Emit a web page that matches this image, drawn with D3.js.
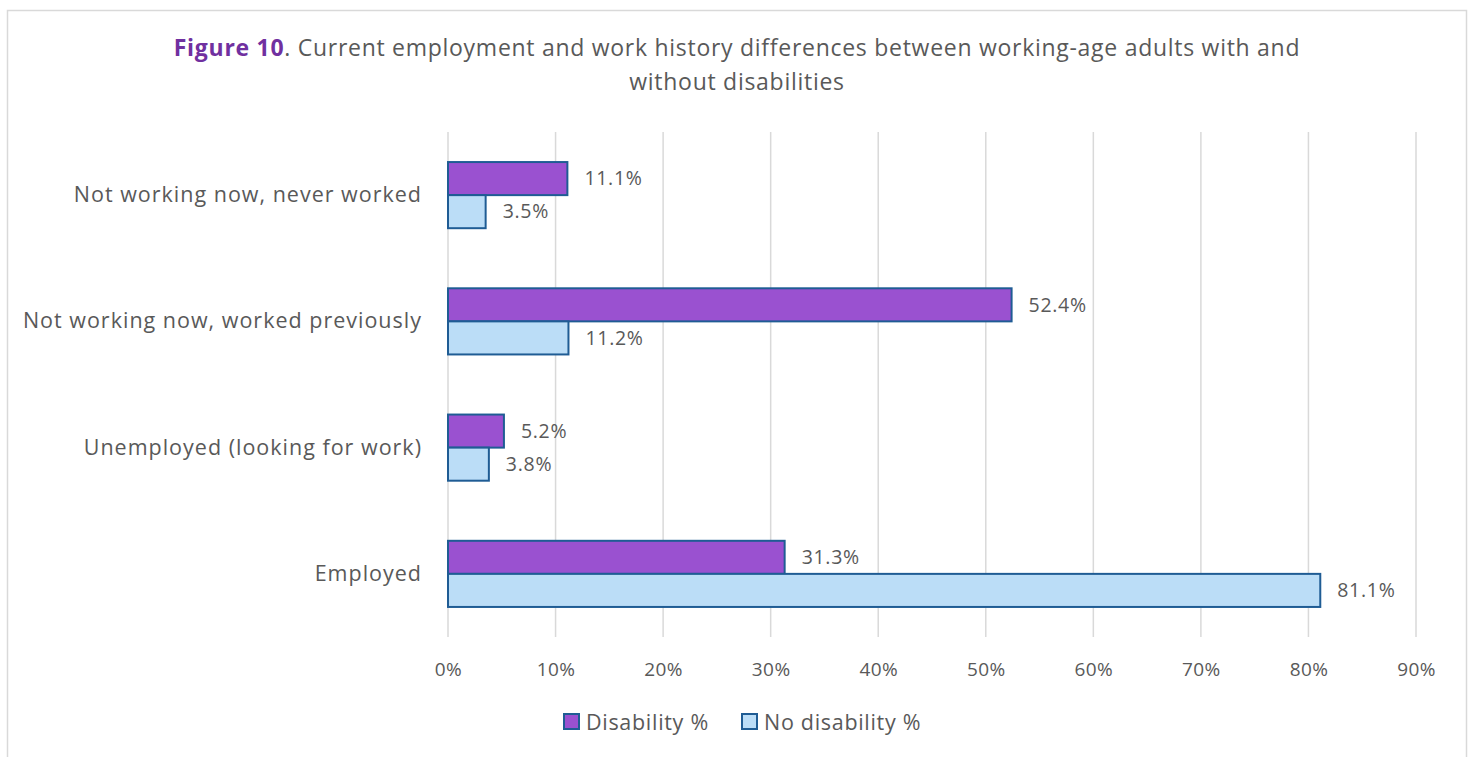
<!DOCTYPE html>
<html>
<head>
<meta charset="utf-8">
<script src="https://cdn.jsdelivr.net/npm/d3@7"></script>
<style>
  html, body { margin: 0; padding: 0; background: #fff; }
  svg { display: block; }
  text { font-family: "Open Sans", "Noto Sans", sans-serif; fill: #595959; }
</style>
</head>
<body>
<svg id="chart" width="1473" height="757"></svg>
<script>
// Categories listed top to bottom as drawn
const categories = [
  "Not working now, never worked",
  "Not working now, worked previously",
  "Unemployed (looking for work)",
  "Employed"
];
const seriesNames = ["Disability %", "No disability %"];
const disability = [11.1, 52.4, 5.2, 31.3];
const noDisability = [3.5, 11.2, 3.8, 81.1];
const xTicks = [0, 10, 20, 30, 40, 50, 60, 70, 80, 90];

const colors = ["#9A51D0", "#BBDDF7"];
const strokeColor = "#1F5C94";
const fontStack = "'Open Sans', 'Noto Sans', sans-serif";

const svg = d3.select("#chart");

// outer frame
svg.append("rect")
  .attr("x", 7.5).attr("y", 10.5)
  .attr("width", 1459).attr("height", 760)
  .attr("fill", "#fff").attr("stroke", "#d9d9d9").attr("stroke-width", 1.5);

// title
const title = svg.append("text")
  .attr("x", 737).attr("y", 56)
  .attr("text-anchor", "middle")
  .style("font-size", "23px")
  .style("letter-spacing", "0.72px");
title.append("tspan").text("Figure 10").style("font-weight", "bold").style("fill", "#7030A0");
title.append("tspan").text(". Current employment and work history differences between working-age adults with and");
svg.append("text")
  .attr("x", 737).attr("y", 90)
  .attr("text-anchor", "middle")
  .style("font-size", "23px")
  .style("letter-spacing", "0.72px")
  .text("without disabilities");

const plot = { left: 448, right: 1416, top: 132, bottom: 637 };

const x = d3.scaleLinear().domain([0, 90]).range([plot.left, plot.right]);
const y = d3.scaleBand().domain(categories).range([plot.top, plot.bottom])
  .paddingInner(0.476).paddingOuter(0.238);
const ySub = d3.scaleBand().domain(seriesNames).range([0, y.bandwidth()]);

// vertical gridlines
svg.append("g")
  .selectAll("line")
  .data(xTicks)
  .join("line")
  .attr("x1", d => x(d)).attr("x2", d => x(d))
  .attr("y1", plot.top).attr("y2", plot.bottom)
  .attr("stroke", "#d9d9d9").attr("stroke-width", 1.5);

// x axis tick labels
const xAxis = d3.axisBottom(x).tickValues(xTicks).tickFormat(d => d + "%").tickSize(0).tickPadding(0);
const gx = svg.append("g").attr("transform", `translate(0, ${plot.bottom + 32})`).call(xAxis);
gx.select(".domain").remove();
gx.selectAll("text")
  .attr("dy", "0.35em")
  .style("font-size", "19px")
  .style("letter-spacing", "0.4px")
  .style("fill", "#595959")
  .style("font-family", fontStack);

// y axis category labels
const yAxis = d3.axisLeft(y).tickSize(0).tickPadding(26);
const gy = svg.append("g").attr("transform", `translate(${plot.left}, 0)`).call(yAxis);
gy.select(".domain").remove();
gy.selectAll("text")
  .style("font-size", "21.5px")
  .style("letter-spacing", "1px")
  .style("fill", "#595959")
  .style("font-family", fontStack);

// bars
const rows = categories.map((c, i) => ({
  cat: c,
  vals: [
    { s: seriesNames[0], v: disability[i], c: colors[0] },
    { s: seriesNames[1], v: noDisability[i], c: colors[1] }
  ]
}));

const groups = svg.append("g").selectAll("g")
  .data(rows).join("g")
  .attr("transform", d => `translate(0, ${y(d.cat)})`);

groups.selectAll("rect")
  .data(d => d.vals).join("rect")
  .attr("x", x(0))
  .attr("y", d => ySub(d.s))
  .attr("width", d => x(d.v) - x(0))
  .attr("height", ySub.bandwidth())
  .attr("fill", d => d.c)
  .attr("stroke", strokeColor)
  .attr("stroke-width", 2);

groups.selectAll("text.val")
  .data(d => d.vals).join("text")
  .attr("class", "val")
  .attr("x", d => x(d.v) + 17)
  .attr("y", d => ySub(d.s) + ySub.bandwidth() / 2)
  .attr("dy", "0.35em")
  .style("font-size", "19.5px")
  .style("letter-spacing", "0.7px")
  .text(d => d.v.toFixed(1) + "%");

// legend
const legendItems = [
  { name: seriesNames[0], color: colors[0], x: 564 },
  { name: seriesNames[1], color: colors[1], x: 742 }
];
const lg = svg.append("g").selectAll("g").data(legendItems).join("g")
  .attr("transform", d => `translate(${d.x}, 714)`);
lg.append("rect")
  .attr("width", 15).attr("height", 15)
  .attr("fill", d => d.color)
  .attr("stroke", strokeColor).attr("stroke-width", 2);
lg.append("text")
  .attr("x", 22).attr("y", 8)
  .attr("dy", "0.35em")
  .style("font-size", "21.5px")
  .style("letter-spacing", "0.7px")
  .text(d => d.name);
</script>
</body>
</html>
